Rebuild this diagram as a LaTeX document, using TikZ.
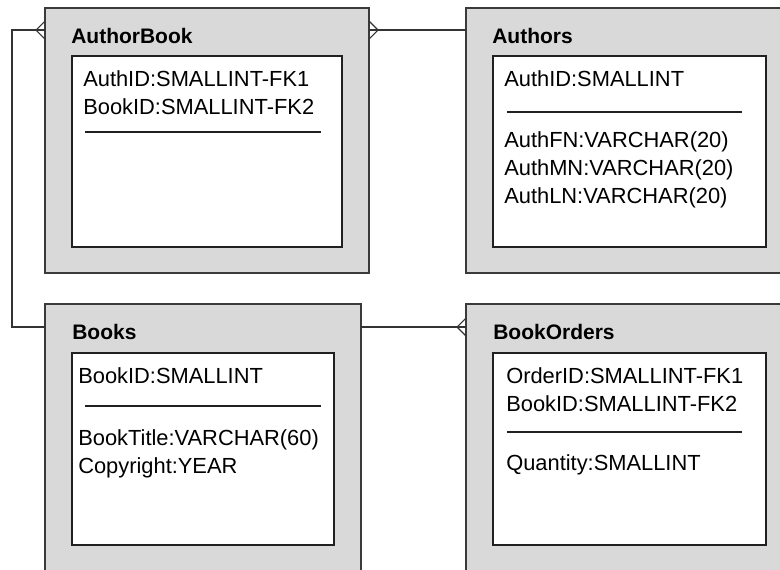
\documentclass[tikz,border=0pt]{standalone}
\usepackage{fontspec}
\setmainfont{Liberation Sans}
\definecolor{boxfill}{HTML}{D9D9D9}
\definecolor{boxline}{HTML}{3A3A3A}
\definecolor{innerline}{HTML}{202020}
\definecolor{connline}{HTML}{333333}
\begin{document}
\begin{tikzpicture}[x=0.75pt,y=-0.75pt,
  outer/.style={draw=boxline, fill=boxfill, line width=0.8pt, anchor=north west, inner sep=0pt, outer sep=0pt},
  innerbox/.style={draw=innerline, fill=white, line width=0.8pt, anchor=north west, inner sep=0pt, outer sep=0pt},
  etitle/.style={anchor=base west, font=\fontsize{15.75}{18}\selectfont\bfseries, inner sep=0pt},
  field/.style={anchor=base west, font=\fontsize{16.4}{19}\selectfont, inner sep=0pt},
  sepline/.style={draw=innerline, line width=0.8pt},
  conn/.style={draw=connline, line width=0.8pt}]
\useasboundingbox (0,0) rectangle (780,569);
\clip (0,0) rectangle (780,569);
\fill[white] (0,0) rectangle (780,569);

% ---------- AuthorBook ----------
\node[outer, minimum width=324*0.75pt, minimum height=265*0.75pt] (ab) at (45,8) {};
\node[innerbox, minimum width=270*0.75pt, minimum height=191*0.75pt] (abi) at (72,56) {};
\node[etitle] (abt) at (71,43) {AuthorBook};
\node[field] (abf1) at (83,86) {AuthID:SMALLINT-FK1};
\node[field] (abf2) at (83,114) {BookID:SMALLINT-FK2};
\coordinate (abs1) at (85,132); \coordinate (abs2) at (321,132);
\draw[sepline] (abs1) -- (abs2);

% ---------- Authors ----------
\node[outer, minimum width=340*0.75pt, minimum height=265*0.75pt] (au) at (466,8) {};
\node[innerbox, minimum width=273*0.75pt, minimum height=191*0.75pt] (aui) at (493,56) {};
\node[etitle] (aut) at (492,43) {Authors};
\node[field] (auf1) at (504,86) {AuthID:SMALLINT};
\node[field] (auf2) at (504,147) {AuthFN:VARCHAR(20)};
\node[field] (auf3) at (504,175) {AuthMN:VARCHAR(20)};
\node[field] (auf4) at (504,203) {AuthLN:VARCHAR(20)};
\coordinate (aus1) at (507,112); \coordinate (aus2) at (742,112);
\draw[sepline] (aus1) -- (aus2);

% ---------- Books ----------
\node[outer, minimum width=316*0.75pt, minimum height=300*0.75pt] (bk) at (45,304) {};
\node[innerbox, minimum width=262*0.75pt, minimum height=192*0.75pt] (bki) at (72,353) {};
\node[etitle] (bkt) at (72,339) {Books};
\node[field] (bkf1) at (78,383) {BookID:SMALLINT};
\node[field] (bkf2) at (78,445) {BookTitle:VARCHAR(60)};
\node[field] (bkf3) at (78,473) {Copyright:YEAR};
\coordinate (bks1) at (85,406); \coordinate (bks2) at (321,406);
\draw[sepline] (bks1) -- (bks2);

% ---------- BookOrders ----------
\node[outer, minimum width=340*0.75pt, minimum height=300*0.75pt] (bo) at (466,304) {};
\node[innerbox, minimum width=273*0.75pt, minimum height=192*0.75pt] (boi) at (493,353) {};
\node[etitle] (bot) at (493,339) {BookOrders};
\node[field] (bof1) at (506,383) {OrderID:SMALLINT-FK1};
\node[field] (bof2) at (506,411) {BookID:SMALLINT-FK2};
\node[field] (bof3) at (506,470) {Quantity:SMALLINT};
\coordinate (bos1) at (507,432); \coordinate (bos2) at (742,432);
\draw[sepline] (bos1) -- (bos2);

% ---------- connectors ----------
\coordinate (abL) at (45,30);
\coordinate (abR) at (369,30);
\coordinate (auL) at (466,30);
\coordinate (bkL) at (45,327);
\coordinate (bkR) at (361,327);
\coordinate (boL) at (466,327);
\coordinate (bendA) at (12,30);
\coordinate (bendB) at (12,327);

% Books -> AuthorBook (many at AuthorBook)
\draw[conn] (abL) -- (bendA) -- (bendB) -- (bkL);
\draw[conn] (abL) ++(0,-9) -- ++(-9,9) -- ++(9,9);
% Authors -> AuthorBook (many at AuthorBook)
\draw[conn] (abR) -- (auL);
\draw[conn] (abR) ++(0,-9) -- ++(9,9) -- ++(-9,9);
% Books -> BookOrders (many at BookOrders)
\draw[conn] (bkR) -- (boL);
\draw[conn] (boL) ++(0,-9) -- ++(-9,9) -- ++(9,9);
\end{tikzpicture}
\end{document}
